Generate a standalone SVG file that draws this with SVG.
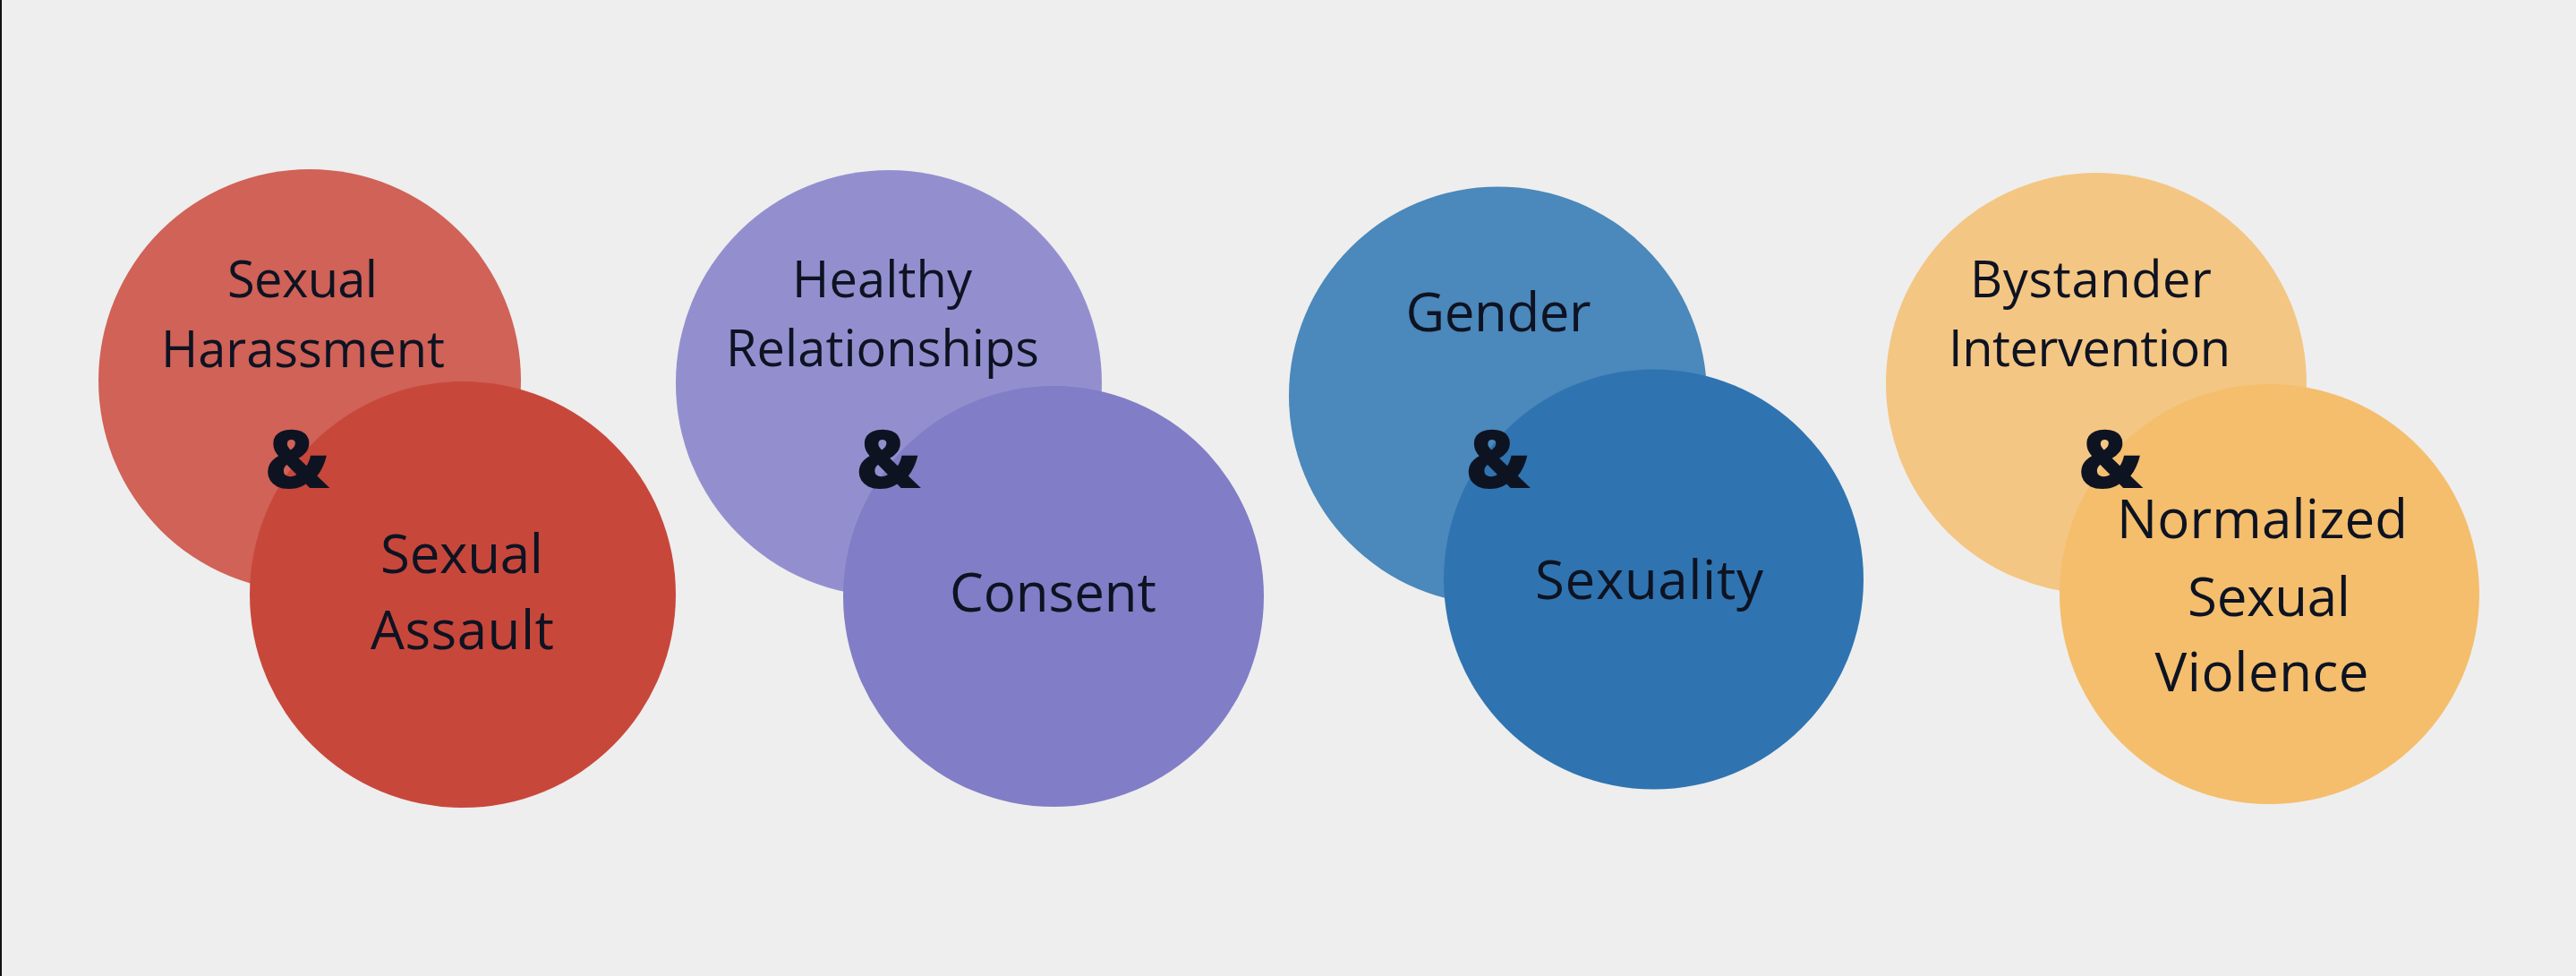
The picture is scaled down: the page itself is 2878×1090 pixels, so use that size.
<svg xmlns="http://www.w3.org/2000/svg" width="2878" height="1090" viewBox="0 0 2878 1090">
<style>
.t{font-family:"Open Sans","Liberation Sans",sans-serif;fill:#0E1322;text-anchor:middle;font-weight:500}
.s{font-size:56px}
.b{font-size:60px}
.amp{font-family:"Open Sans","Liberation Sans",sans-serif;font-weight:800;font-size:90px;fill:#0E1322;text-anchor:middle}
</style>
<rect x="0" y="0" width="2878" height="1090" fill="#EEEEEE"/>
<rect x="0" y="0" width="2" height="1090" fill="#111111"/>
<g id="connectors"></g>
<g id="pair-red">
  <g id="sexual-harassment">
    <circle cx="346" cy="425" r="236" fill="#D06257"/>
    <text class="t s" x="338" y="332" textLength="168" lengthAdjust="spacing">Sexual</text>
    <text class="t s" x="338.5" y="410" textLength="317" lengthAdjust="spacing">Harassment</text>
  </g>
  <g id="sexual-assault">
    <circle cx="517" cy="664" r="238" fill="#C8473B"/>
    <text class="t b" x="516" y="640" textLength="182" lengthAdjust="spacing">Sexual</text>
    <text class="t b" x="516.5" y="725" textLength="205" lengthAdjust="spacing">Assault</text>
  </g>
  <text class="amp" x="332" y="545">&amp;</text>
</g>
<g id="pair-purple">
  <g id="healthy-relationships">
    <circle cx="993" cy="428" r="238" fill="#938FCF"/>
    <text class="t s" x="985.5" y="332" textLength="201" lengthAdjust="spacing">Healthy</text>
    <text class="t s" x="986" y="409" textLength="350" lengthAdjust="spacing">Relationships</text>
  </g>
  <g id="consent">
    <circle cx="1177" cy="666" r="235" fill="#817DC6"/>
    <text class="t b" x="1176.5" y="683" textLength="231" lengthAdjust="spacing">Consent</text>
  </g>
  <text class="amp" x="992.5" y="545">&amp;</text>
</g>
<g id="pair-blue">
  <g id="gender">
    <circle cx="1673.5" cy="442" r="233.5" fill="#4B88BB"/>
    <text class="t b" x="1674" y="370" textLength="207" lengthAdjust="spacing">Gender</text>
  </g>
  <g id="sexuality">
    <circle cx="1847.5" cy="647" r="234.5" fill="#2F74B1"/>
    <text class="t b" x="1842.5" y="669" textLength="255" lengthAdjust="spacing">Sexuality</text>
  </g>
  <text class="amp" x="1673.5" y="545">&amp;</text>
</g>
<g id="pair-orange">
  <g id="bystander-intervention">
    <circle cx="2342" cy="428" r="235" fill="#F4C683"/>
    <text class="t s" x="2336" y="332" textLength="270" lengthAdjust="spacing">Bystander</text>
    <text class="t s" x="2334.5" y="409" textLength="315" lengthAdjust="spacing">Intervention</text>
  </g>
  <g id="normalized-sexual-violence">
    <circle cx="2535.5" cy="663.5" r="234.5" fill="#F4BE6C"/>
    <text class="t b" x="2527.5" y="601" textLength="325" lengthAdjust="spacing">Normalized</text>
    <text class="t b" x="2535" y="688" textLength="182" lengthAdjust="spacing">Sexual</text>
    <text class="t b" x="2527" y="772" textLength="239" lengthAdjust="spacing">Violence</text>
  </g>
  <text class="amp" x="2358" y="545">&amp;</text>
</g>
</svg>
